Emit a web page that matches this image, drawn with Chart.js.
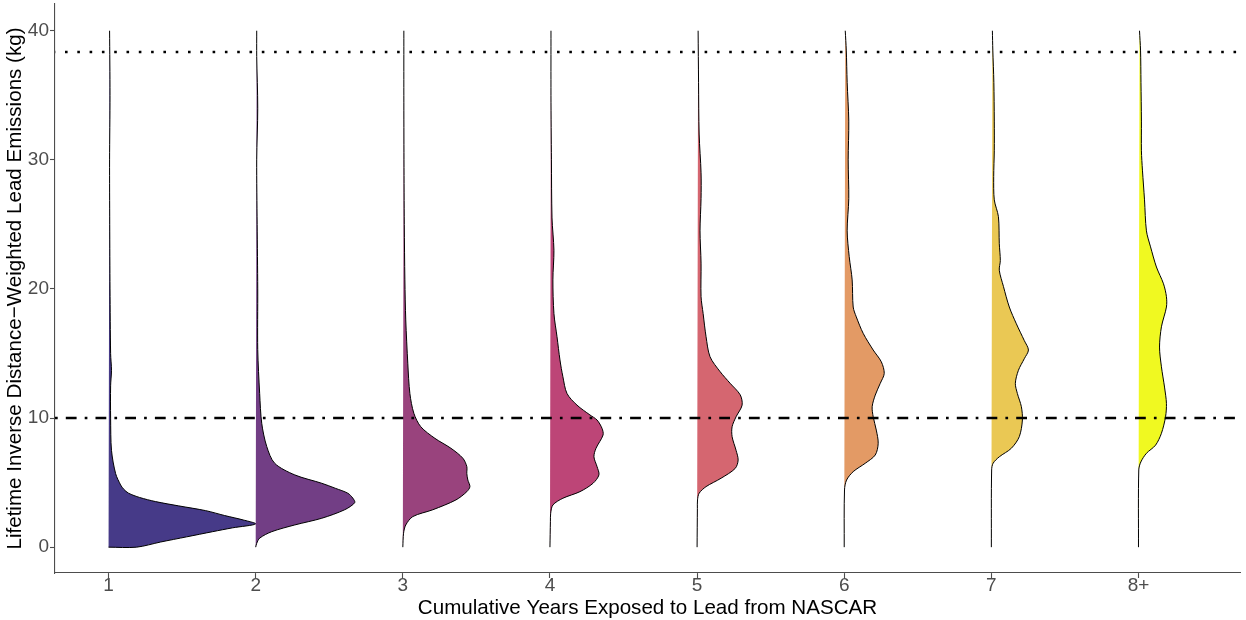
<!DOCTYPE html>
<html>
<head>
<meta charset="utf-8">
<script src="https://cdn.jsdelivr.net/npm/chart.js@4.4.1/dist/chart.umd.min.js"></script>
<style>
html,body{margin:0;padding:0;background:#ffffff;}
#wrap{width:1246px;height:620px;}
</style>
</head>
<body>
<div id="wrap"><canvas id="c" width="1246" height="620"></canvas></div>
<script>
// ---------------- data ----------------
const categories = ['1', '2', '3', '4', '5', '6', '7', '8+'];
const yTicks = [0, 10, 20, 30, 40];
const fillColors = ['#463a88', '#723e85', '#99437d', '#bd4577', '#d56670', '#e39a65', '#eac854', '#f0f921'];
const dottedLineValue = 38.35;   // kg
const dashDotLineValue = 10.0;   // kg

// lead emissions (kg) along each half violin, and the half-violin width at that value
// (width expressed as a fraction of one category step)
const emis1 = [0, 0.4, 0.8, 1.2, 1.5, 1.8, 2.1, 2.45, 2.83, 3.2, 3.53, 3.85, 4.18, 4.5, 4.82, 5.7, 7.5, 10, 12.5, 13.7, 15, 20, 25, 30, 35, 40];
const dens1 = [0.190, 0.354, 0.531, 0.707, 0.844, 1.000, 0.918, 0.789, 0.660, 0.476, 0.320, 0.211, 0.136, 0.102, 0.082, 0.048, 0.020, 0.014, 0.014, 0.020, 0.014, 0.010, 0.008, 0.007, 0.010, 0.007];

const emis2 = [0, 0.3, 0.7, 1.2, 1.72, 2.24, 2.9, 3.45, 3.8, 4.18, 4.55, 4.95, 5.6, 6.5, 7.8, 9.6, 11.9, 15.3, 20, 25, 30, 34, 38, 40];
const dens2 = [0, 0.007, 0.027, 0.109, 0.265, 0.449, 0.605, 0.673, 0.660, 0.626, 0.544, 0.449, 0.265, 0.129, 0.075, 0.041, 0.027, 0.014, 0.014, 0.010, 0.007, 0.014, 0.007, 0.007];

const emis3 = [0, 1.08, 1.72, 2.37, 2.9, 3.66, 4.3, 4.69, 5.2, 5.7, 6.24, 6.89, 7.66, 8.43, 9.33, 10.37, 11.9, 14.2, 17.6, 20.7, 25, 30, 35, 40];
const dens3 = [0, 0.005, 0.020, 0.068, 0.204, 0.361, 0.435, 0.456, 0.442, 0.435, 0.435, 0.408, 0.327, 0.218, 0.122, 0.075, 0.048, 0.034, 0.020, 0.014, 0.010, 0.008, 0.007, 0.007];

const emis4 = [0, 2.0, 2.63, 3.27, 3.79, 4.3, 4.95, 5.6, 6.24, 7.0, 7.66, 8.69, 9.2, 9.85, 10.24, 11.0, 11.9, 13.2, 14.5, 16.3, 18.1, 20.7, 23, 25.5, 30, 35, 40];
const dens4 = [0, 0.003, 0.005, 0.020, 0.088, 0.204, 0.293, 0.333, 0.320, 0.299, 0.313, 0.361, 0.354, 0.320, 0.272, 0.184, 0.116, 0.088, 0.068, 0.048, 0.027, 0.020, 0.027, 0.014, 0.010, 0.007, 0.007];

const emis5 = [0, 3.0, 3.66, 4.18, 4.69, 5.34, 6.1, 6.75, 7.5, 8.56, 9.33, 10.1, 11.0, 11.8, 12.7, 13.6, 14.75, 16.3, 18.1, 19.4, 22.0, 24.5, 27, 29, 32, 36, 40];
const dens5 = [0, 0.002, 0.003, 0.014, 0.061, 0.163, 0.259, 0.279, 0.265, 0.238, 0.238, 0.265, 0.306, 0.293, 0.224, 0.156, 0.088, 0.061, 0.041, 0.027, 0.027, 0.020, 0.027, 0.027, 0.014, 0.010, 0.007];

const emis6 = [0, 4.43, 5.2, 5.85, 6.5, 7.14, 8.05, 9.07, 10.1, 10.88, 11.78, 12.69, 13.46, 14.36, 15.27, 16.56, 17.84, 18.6, 20.7, 22.5, 24.5, 27, 30, 33, 36, 38.5, 40];
const dens6 = [0, 0.002, 0.016, 0.061, 0.143, 0.211, 0.231, 0.218, 0.197, 0.190, 0.211, 0.245, 0.272, 0.252, 0.197, 0.129, 0.082, 0.061, 0.054, 0.034, 0.020, 0.031, 0.027, 0.031, 0.020, 0.014, 0.007];

const emis7 = [0, 5.98, 6.5, 7.0, 7.66, 8.56, 9.85, 10.88, 11.9, 12.69, 13.7, 14.6, 15.27, 16.0, 17.3, 18.6, 20.2, 21.45, 22.2, 23.5, 25.6, 26.9, 28.7, 30.7, 33, 36, 38.5, 40];
const dens7 = [0, 0.002, 0.012, 0.054, 0.136, 0.190, 0.211, 0.204, 0.177, 0.163, 0.184, 0.224, 0.252, 0.224, 0.170, 0.122, 0.082, 0.054, 0.061, 0.054, 0.048, 0.020, 0.016, 0.020, 0.020, 0.017, 0.010, 0.007];

const emis8 = [0, 5.98, 6.6, 7.27, 7.9, 8.82, 10.1, 11.14, 12.4, 13.97, 15.5, 17.07, 18.6, 19.4, 20.4, 21.7, 23.26, 24.5, 26.9, 29.2, 30.7, 33, 36, 38.5, 40];
const dens8 = [0, 0.002, 0.016, 0.054, 0.116, 0.156, 0.184, 0.190, 0.177, 0.156, 0.143, 0.156, 0.190, 0.190, 0.170, 0.122, 0.082, 0.054, 0.041, 0.027, 0.020, 0.020, 0.017, 0.014, 0.007];

const emisList = [emis1, emis2, emis3, emis4, emis5, emis6, emis7, emis8];
const densList = [dens1, dens2, dens3, dens4, dens5, dens6, dens7, dens8];

// ---------------- chart ----------------
const FONT = "'Liberation Sans', Arial, Helvetica, sans-serif";
const xMin = 0.636, xMax = 8.69;
const yMin = -2.0, yMax = 42.07;

const datasets = [];
// reference lines (drawn on top)
datasets.push({
  label: 'dotted', data: [{x: xMin, y: dottedLineValue}, {x: xMax, y: dottedLineValue}],
  borderColor: '#000', borderWidth: 2.6, borderDash: [2.6, 9.7], borderDashOffset: -10, borderCapStyle: 'butt',
  pointRadius: 0, fill: false, tension: 0, order: 0
});
datasets.push({
  label: 'dashdot', data: [{x: xMin, y: dashDotLineValue}, {x: xMax, y: dashDotLineValue}],
  borderColor: '#000', borderWidth: 2.6, borderDash: [2.7, 8.1, 10.8, 8.1], borderCapStyle: 'butt',
  pointRadius: 0, fill: false, tension: 0, order: 1
});

categories.forEach((cat, i) => {
  const base = i + 1;
  const ys = emisList[i], ws = densList[i];
  const pts = [];
  if (ws[0] > 0) pts.push({x: base, y: ys[0]});
  for (let k = 0; k < ys.length; k++) pts.push({x: base + ws[k], y: ys[k]});
  datasets.push({
    label: 'violin ' + cat,
    data: pts,
    backgroundColor: fillColors[i],
    borderColor: '#000',
    borderWidth: 1,
    fill: 'shape',
    tension: 0.3,
    pointRadius: 0,
    order: 100 - i
  });
});

new Chart(document.getElementById('c'), {
  type: 'line',
  data: {datasets},
  options: {
    responsive: false,
    devicePixelRatio: 1,
    animation: false,
    layout: {padding: {left: 0, right: 6, top: 4, bottom: 0}},
    plugins: {legend: {display: false}, tooltip: {enabled: false}},
    scales: {
      x: {
        type: 'linear', min: xMin, max: xMax,
        afterBuildTicks: s => { s.ticks = categories.map((c, i) => ({value: i + 1})); },
        afterFit: s => { s.height = 47; s.paddingLeft = 0; s.paddingRight = 0; },
        ticks: {
          callback: (v, idx) => categories[idx],
          color: '#4d4d4d', font: {family: FONT, size: 19, lineHeight: 1}, padding: -2,
          maxRotation: 0, autoSkip: false
        },
        grid: {drawOnChartArea: false, drawTicks: true, tickLength: 5, tickColor: '#4d4d4d', tickWidth: 1.1},
        border: {display: true, color: '#4d4d4d', width: 1.1},
        title: {display: true, text: 'Cumulative Years Exposed to Lead from NASCAR', color: '#000',
          font: {family: FONT, size: 20.6, lineHeight: 1.1}, padding: {top: 0, bottom: 0}}
      },
      y: {
        type: 'linear', min: yMin, max: yMax,
        afterBuildTicks: s => { s.ticks = yTicks.map(v => ({value: v})); },
        afterFit: s => { s.width = 55; s.paddingTop = 0; s.paddingBottom = 0; },
        ticks: {
          color: '#4d4d4d', font: {family: FONT, size: 19, lineHeight: 1}, padding: 1
        },
        grid: {drawOnChartArea: false, drawTicks: true, tickLength: 5, tickColor: '#4d4d4d', tickWidth: 1.1},
        border: {display: true, color: '#4d4d4d', width: 1.1},
        title: {display: true, text: 'Lifetime Inverse Distance\u2212Weighted Lead Emissions (kg)', color: '#000',
          font: {family: FONT, size: 20.6, lineHeight: 1.2}, padding: {top: 3, bottom: 0}}
      }
    }
  }
});
</script>
</body>
</html>
